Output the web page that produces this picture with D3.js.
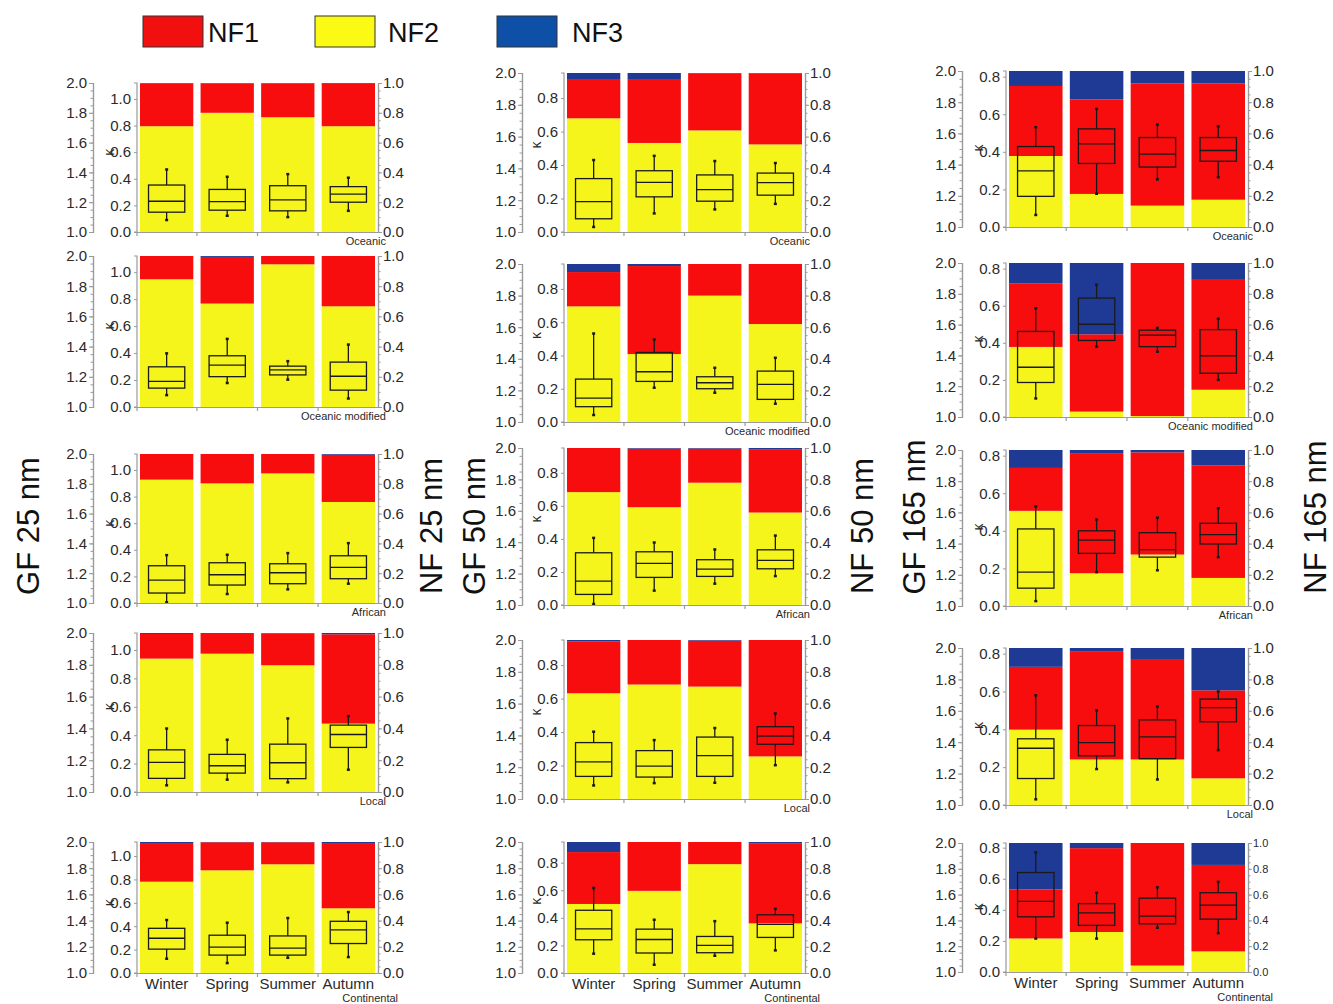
<!DOCTYPE html>
<html><head><meta charset="utf-8">
<script src="https://cdn.jsdelivr.net/npm/d3@7"></script>
<style>body{margin:0;background:#fff;} text{font-family:Arial,"Liberation Sans",sans-serif;}</style>
</head><body><svg id="c" width="1333" height="1004"></svg>
<script>
// ---------------- DATA ----------------
const seasons = ["Winter", "Spring", "Summer", "Autumn"];
const regions = ["Oceanic", "Oceanic modified", "African", "Local", "Continental"];
const sizeNames = ["25 nm", "50 nm", "165 nm"];
const legendLabels = ["NF1", "NF2", "NF3"];
const gfTicks = [1.0, 1.2, 1.4, 1.6, 1.8, 2.0];
const fracTicks = [0.0, 0.2, 0.4, 0.6, 0.8, 1.0];
const kappaTicks25 = [0.0, 0.2, 0.4, 0.6, 0.8, 1.0];
const kappaTicks50 = [0.0, 0.2, 0.4, 0.6, 0.8];
const kappaTicks165 = [0.0, 0.2, 0.4, 0.6, 0.8];

// number fractions [region][season]
const nf2_25 = [[0.71,0.80,0.77,0.71],[0.846,0.685,0.945,0.667],[0.828,0.803,0.870,0.678],[0.839,0.870,0.797,0.430],[0.697,0.784,0.830,0.494]];
const nf1_25 = [[0.286,0.197,0.227,0.285],[0.154,0.309,0.055,0.333],[0.172,0.197,0.130,0.317],[0.155,0.130,0.201,0.562],[0.295,0.214,0.168,0.498]];
const nf3_25 = [[0.004,0.003,0.003,0.005],[0.0,0.006,0.0,0.0],[0.0,0.0,0.0,0.005],[0.006,0.0,0.002,0.008],[0.008,0.002,0.002,0.008]];

const nf2_50 = [[0.715,0.56,0.639,0.551],[0.732,0.43,0.80,0.62],[0.719,0.623,0.779,0.589],[0.665,0.72,0.707,0.268],[0.527,0.627,0.831,0.379]];
const nf1_50 = [[0.247,0.402,0.357,0.445],[0.217,0.557,0.20,0.38],[0.281,0.373,0.217,0.40],[0.325,0.28,0.289,0.732],[0.396,0.373,0.169,0.608]];
const nf3_50 = [[0.038,0.038,0.004,0.004],[0.051,0.013,0.0,0.0],[0.0,0.004,0.004,0.011],[0.01,0.0,0.004,0.0],[0.077,0.0,0.0,0.013]];

const nf2_165 = [[0.455,0.212,0.137,0.175],[0.455,0.035,0.006,0.177],[0.61,0.21,0.33,0.18],[0.48,0.29,0.29,0.17],[0.26,0.31,0.05,0.16]];
const nf1_165 = [[0.449,0.606,0.784,0.746],[0.411,0.502,0.994,0.719],[0.275,0.77,0.655,0.72],[0.40,0.69,0.64,0.56],[0.38,0.65,0.95,0.67]];
const nf3_165 = [[0.096,0.182,0.079,0.079],[0.134,0.463,0.0,0.104],[0.115,0.02,0.015,0.10],[0.12,0.02,0.07,0.27],[0.36,0.04,0.0,0.17]];

// kappa box plots [region][season] = [min, q1, median, q3, max]
const kappa_25 = [
 [[0.09,0.149,0.231,0.353,0.47],[0.122,0.164,0.229,0.32,0.415],[0.112,0.159,0.241,0.348,0.435],[0.159,0.224,0.284,0.341,0.408]],
 [[0.088,0.14,0.19,0.298,0.398],[0.178,0.225,0.31,0.38,0.505],[0.203,0.238,0.275,0.303,0.34],[0.063,0.125,0.228,0.333,0.463]],
 [[0.005,0.075,0.1725,0.28,0.36],[0.0675,0.135,0.2125,0.3025,0.3625],[0.1025,0.145,0.2275,0.295,0.375],[0.145,0.1825,0.2675,0.355,0.45]],
 [[0.047,0.096,0.208,0.297,0.447],[0.087,0.133,0.185,0.265,0.368],[0.068,0.094,0.206,0.337,0.518],[0.157,0.314,0.405,0.471,0.534]],
 [[0.122,0.204,0.297,0.382,0.453],[0.085,0.153,0.221,0.323,0.43],[0.13,0.153,0.212,0.317,0.47],[0.136,0.252,0.368,0.442,0.521]]
];
const kappa_50 = [
 [[0.03,0.079,0.182,0.319,0.43],[0.111,0.21,0.297,0.366,0.455],[0.135,0.184,0.253,0.341,0.424],[0.168,0.22,0.295,0.352,0.412]],
 [[0.042,0.092,0.144,0.258,0.532],[0.206,0.244,0.302,0.418,0.496],[0.176,0.2,0.236,0.272,0.326],[0.11,0.136,0.226,0.306,0.386]],
 [[0.006,0.064,0.145,0.316,0.406],[0.087,0.167,0.252,0.322,0.378],[0.129,0.173,0.217,0.274,0.336],[0.175,0.219,0.27,0.334,0.42]],
 [[0.081,0.135,0.222,0.337,0.402],[0.095,0.131,0.196,0.289,0.352],[0.097,0.135,0.259,0.37,0.424],[0.202,0.327,0.376,0.432,0.511]],
 [[0.14,0.241,0.32,0.455,0.617],[0.06,0.145,0.243,0.318,0.386],[0.125,0.147,0.2,0.265,0.376],[0.164,0.258,0.352,0.422,0.465]]
];
const kappa_165 = [
 [[0.064,0.163,0.299,0.428,0.531],[0.177,0.338,0.442,0.522,0.628],[0.253,0.319,0.388,0.476,0.545],[0.265,0.35,0.407,0.476,0.535]],
 [[0.1,0.186,0.268,0.461,0.586],[0.379,0.4125,0.5,0.641,0.7125],[0.352,0.379,0.441,0.468,0.48],[0.2,0.236,0.33,0.471,0.529]],
 [[0.026,0.095,0.18,0.41,0.53],[0.18,0.28,0.35,0.40,0.46],[0.19,0.26,0.30,0.39,0.47],[0.26,0.33,0.38,0.44,0.52]],
 [[0.03,0.14,0.30,0.35,0.58],[0.19,0.26,0.33,0.42,0.50],[0.135,0.245,0.36,0.45,0.52],[0.29,0.44,0.515,0.56,0.60]],
 [[0.215,0.355,0.455,0.64,0.77],[0.215,0.30,0.38,0.44,0.51],[0.285,0.31,0.36,0.475,0.545],[0.25,0.34,0.43,0.51,0.58]]
];

// ---------------- LAYOUT / STYLE ----------------
const colors = {NF1: "#F70D0D", NF2: "#F5F51C", NF3: "#1F3A94"};
const legendColors = {NF1: "#F20F0F", NF2: "#FAFA14", NF3: "#0E50A8"};
const axisColor = "#9a9a9a";
const textColor = "#2a2a2a";

const cols = [
 {outer:93, inner:137, x0:140, x1:375, right:378, kmax:1.12, kTicks:kappaTicks25, kLab:0.6,
  rows:[[83,232],[256,407],[454,603],[633,792],[842,973]],
  nf1:nf1_25, nf2:nf2_25, nf3:nf3_25, kappa:kappa_25, regOff:8, contOff:20},
 {outer:522, inner:564, x0:567, x1:802, right:805, kmax:0.95, kTicks:kappaTicks50, kLab:0.52,
  rows:[[73,232],[264,422],[448,605],[640,799],[842,973]],
  nf1:nf1_50, nf2:nf2_50, nf3:nf3_50, kappa:kappa_50, regOff:5, contOff:15},
 {outer:962, inner:1006, x0:1009, x1:1245, right:1248, kmax:0.83, kTicks:kappaTicks165, kLab:0.42,
  rows:[[71,227],[263,417],[450,606],[648,805],[843,972]],
  nf1:nf1_165, nf2:nf2_165, nf3:nf3_165, kappa:kappa_165, regOff:5, contOff:25}
];

const svg = d3.select("#c");
const fmt = d3.format(".1f");

function styleAxis(g, fs) {
  g.select(".domain").attr("stroke", axisColor).attr("stroke-width", 1.2);
  g.selectAll(".tick line").attr("stroke", axisColor);
  g.selectAll(".tick text").attr("fill", textColor).attr("font-size", fs).attr("font-family", "Arial, 'Liberation Sans', sans-serif");
}

cols.forEach((c, ci) => {
  regions.forEach((reg, ri) => {
    const [top, bot] = c.rows[ri];
    const x = d3.scaleBand().domain(seasons).range([c.x0, c.x1]).paddingInner(0.12);
    const yR = d3.scaleLinear().domain([0, 1]).range([bot, top]);
    const yK = d3.scaleLinear().domain([0, c.kmax]).range([bot, top]);
    const yG = d3.scaleLinear().domain([1, 2]).range([bot, top]);
    const g = svg.append("g");

    const rows = seasons.map((s, i) => ({season: s, NF2: c.nf2[ri][i], NF1: c.nf1[ri][i], NF3: c.nf3[ri][i]}));
    const stacked = d3.stack().keys(["NF2", "NF1", "NF3"])(rows);
    g.selectAll("g.layer").data(stacked).join("g").attr("class", "layer")
      .attr("fill", d => colors[d.key])
      .selectAll("rect").data(d => d).join("rect")
      .attr("x", d => x(d.data.season)).attr("width", x.bandwidth())
      .attr("y", d => yR(Math.min(d[1], 1))).attr("height", d => Math.max(0, yR(d[0]) - yR(Math.min(d[1], 1))));

    // box plots
    const bw = x.bandwidth() * 0.68;
    const boxes = seasons.map((s, i) => ({season: s, v: c.kappa[ri][i]}));
    const bg = g.append("g").attr("stroke", "#1a1a1a").attr("stroke-width", 1.3).attr("fill", "none");
    boxes.forEach(b => {
      const cx = x(b.season) + x.bandwidth() / 2;
      const [mn, q1, md, q3, mx] = b.v;
      bg.append("line").attr("x1", cx).attr("x2", cx).attr("y1", yK(mx)).attr("y2", yK(q3));
      bg.append("line").attr("x1", cx).attr("x2", cx).attr("y1", yK(q1)).attr("y2", yK(mn));
      bg.append("line").attr("x1", cx - 1.5).attr("x2", cx + 1.5).attr("y1", yK(mx)).attr("y2", yK(mx)).attr("stroke-width", 2.5);
      bg.append("line").attr("x1", cx - 1.5).attr("x2", cx + 1.5).attr("y1", yK(mn)).attr("y2", yK(mn)).attr("stroke-width", 2.5);
      bg.append("rect").attr("x", cx - bw / 2).attr("width", bw).attr("y", yK(q3)).attr("height", yK(q1) - yK(q3));
      bg.append("line").attr("x1", cx - bw / 2).attr("x2", cx + bw / 2).attr("y1", yK(md)).attr("y2", yK(md));
    });

    // outer GF axis (minor ticks + major)
    const gMinor = g.append("g").attr("transform", `translate(${c.outer},0)`)
      .call(d3.axisLeft(yG).tickValues(d3.range(1, 2.0001, 0.05)).tickSize(2.5).tickFormat(""));
    styleAxis(gMinor, 15);
    const gOut = g.append("g").attr("transform", `translate(${c.outer},0)`)
      .call(d3.axisLeft(yG).tickValues(gfTicks).tickSize(4).tickPadding(2).tickFormat(fmt));
    styleAxis(gOut, 15);

    // inner kappa axis
    const gK = g.append("g").attr("transform", `translate(${c.inner},0)`)
      .call(d3.axisLeft(yK).tickValues(c.kTicks).tickSize(3).tickPadding(3).tickFormat(fmt));
    styleAxis(gK, 15);
    gK.select(".domain").attr("d", `M-3,${top}H0V${bot}H-3`);

    // right fraction axis
    const rfs = (ci === 2 && ri === 4) ? 11 : 15;
    const gRm = g.append("g").attr("transform", `translate(${c.right},0)`)
      .call(d3.axisRight(yR).tickValues(d3.range(0, 1.0001, 0.05)).tickSize(2.5).tickFormat(""));
    styleAxis(gRm, rfs);
    const gR = g.append("g").attr("transform", `translate(${c.right},0)`)
      .call(d3.axisRight(yR).tickValues(fracTicks).tickSize(4).tickPadding(1).tickFormat(fmt));
    styleAxis(gR, rfs);

    // bottom line
    g.append("line").attr("x1", c.inner).attr("x2", c.right).attr("y1", bot + 0.5).attr("y2", bot + 0.5)
      .attr("stroke", axisColor).attr("stroke-width", 1.2);
    const gap = x.step() - x.bandwidth();
    const tickXs = [c.inner].concat(seasons.slice(1).map(s => x(s) - gap / 2));
    tickXs.forEach(tx => g.append("line").attr("x1", tx).attr("x2", tx).attr("y1", bot).attr("y2", bot + 4)
      .attr("stroke", axisColor).attr("stroke-width", 1.2));

    // kappa label
    g.append("text").attr("transform", `translate(${c.inner - 28},${yK(c.kLab)}) rotate(-90)`)
      .attr("text-anchor", "middle").attr("dominant-baseline", "central")
      .attr("font-size", 14).attr("fill", textColor).text("κ");

    // region label
    const isCont = ri === 4;
    g.append("text").attr("x", c.right + (isCont ? c.contOff : c.regOff)).attr("y", bot + (isCont ? 29 : 13))
      .attr("text-anchor", "end").attr("font-size", 11).attr("fill", textColor).text(reg);

    // season labels in bottom row
    if (isCont) {
      g.selectAll("text.season").data(seasons).join("text").attr("class", "season")
        .attr("x", d => x(d) + x.bandwidth() / 2).attr("y", bot + 16)
        .attr("text-anchor", "middle").attr("font-size", 15).attr("fill", textColor).text(d => d);
    }
  });
});

// side titles
const sideTitles = [
  {t: "GF " + sizeNames[0], x: 28, y: 526},
  {t: "NF " + sizeNames[0], x: 431, y: 526},
  {t: "GF " + sizeNames[1], x: 474, y: 526},
  {t: "NF " + sizeNames[1], x: 862, y: 526},
  {t: "GF " + sizeNames[2], x: 914, y: 517},
  {t: "NF " + sizeNames[2], x: 1315, y: 517}
];
sideTitles.forEach(s => {
  svg.append("text").attr("transform", `translate(${s.x},${s.y}) rotate(-90)`)
    .attr("text-anchor", "middle").attr("dominant-baseline", "central")
    .attr("font-size", 31).attr("fill", "#111").text(s.t);
});

// legend
const legendPos = [{rx: 143, tx: 208}, {rx: 315, tx: 388}, {rx: 497, tx: 572}];
legendLabels.forEach((k, i) => {
  svg.append("rect").attr("x", legendPos[i].rx).attr("y", 16).attr("width", 60).attr("height", 31)
    .attr("fill", legendColors[k]).attr("stroke", "#333").attr("stroke-width", 1);
  svg.append("text").attr("x", legendPos[i].tx).attr("y", 33).attr("dominant-baseline", "central")
    .attr("font-size", 27).attr("fill", "#111").text(k);
});
</script></body></html>
